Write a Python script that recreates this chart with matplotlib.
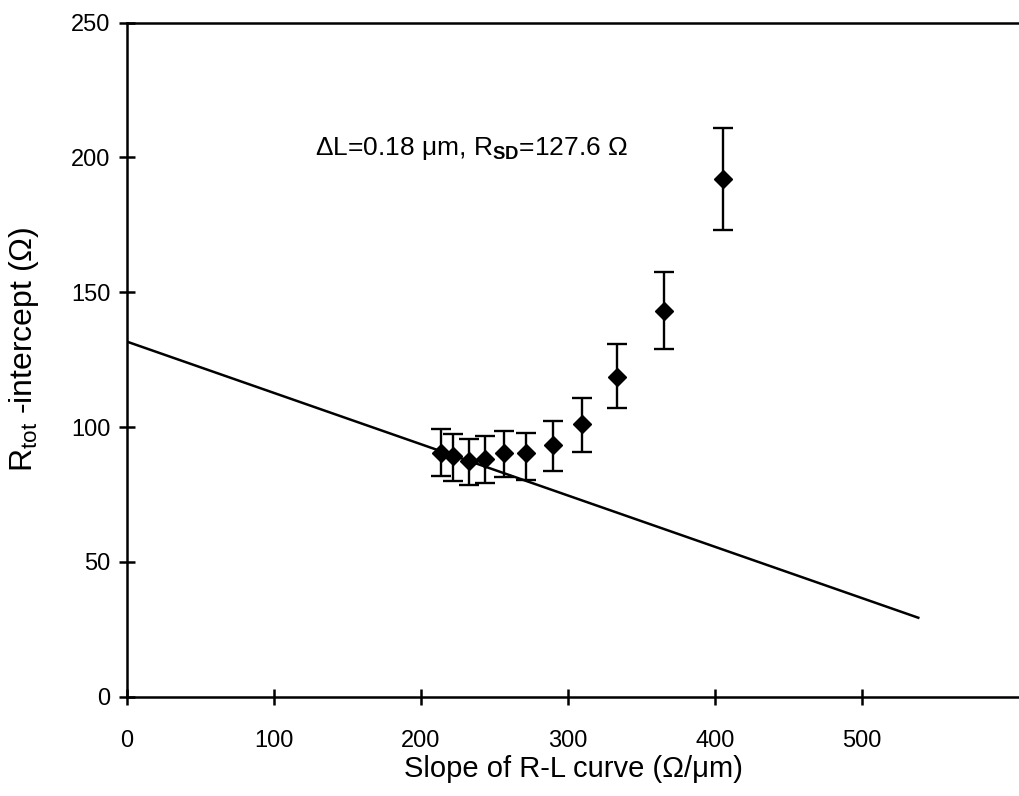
import matplotlib
matplotlib.use('Agg')
import matplotlib.pyplot as plt

plt.rcParams['font.family'] = ['Liberation Sans', 'DejaVu Sans']
plt.rcParams['mathtext.fontset'] = 'custom'
plt.rcParams['mathtext.rm'] = 'Liberation Sans'
plt.rcParams['mathtext.it'] = 'Liberation Sans'
plt.rcParams['mathtext.bf'] = 'Liberation Sans:bold'

# ── data ─────────────────────────────────────────────────
slope = [213.4, 222.0, 232.9, 243.5, 256.5, 271.4, 289.9, 309.7, 333.5, 365.5, 405.6]
r_int = [90.5, 89.3, 87.5, 88.1, 90.3, 90.3, 93.4, 101.0, 118.7, 143.1, 191.9]
err_lo = [8.7, 9.2, 9.0, 8.7, 8.7, 9.9, 9.6, 10.1, 11.7, 14.2, 18.8]
err_hi = [8.8, 8.1, 8.0, 8.6, 8.4, 7.6, 9.0, 9.7, 12.0, 14.3, 18.9]

fit_x = [0, 538.3]
fit_y = [131.7, 29.3]

x_ticks = [0, 100, 200, 300, 400, 500]
y_ticks = [0, 50, 100, 150, 200, 250]

fig = plt.figure(figsize=(10.2, 7.96), dpi=100)
ax = fig.add_axes([127 / 1020, 0.1247, 893 / 1020, 0.8468])

ax.plot(fit_x, fit_y, color='black', linewidth=1.8)
ax.errorbar(slope, r_int, yerr=[err_lo, err_hi], fmt='D', color='black',
            markersize=9.5, elinewidth=1.7, capsize=7, capthick=1.7)

ax.set_xlim(0, 607.5)
ax.set_ylim(0, 250)
ax.set_xticks(x_ticks)
ax.set_yticks(y_ticks)
ax.tick_params(direction='inout', length=12, width=1.8, labelsize=17)
ax.tick_params(axis='x', pad=18)
ax.tick_params(axis='y', pad=6)

ax.spines['right'].set_visible(False)
for s in ['left', 'bottom', 'top']:
    ax.spines[s].set_linewidth(1.8)

ax.set_xlabel('Slope of R-L curve (Ω/μm)', fontsize=21, labelpad=2)
ax.set_ylabel(r'R$_{\mathrm{tot}}$ -intercept (Ω)', fontsize=23)
ax.yaxis.set_label_coords(-0.096, 0.516)

ax.text(234.7, 203.5, r'ΔL=0.18 μm, R$_{\mathbf{SD}}$=127.6 Ω', fontsize=19,
        ha='center', va='center')

fig.savefig('out.png', dpi=100)
